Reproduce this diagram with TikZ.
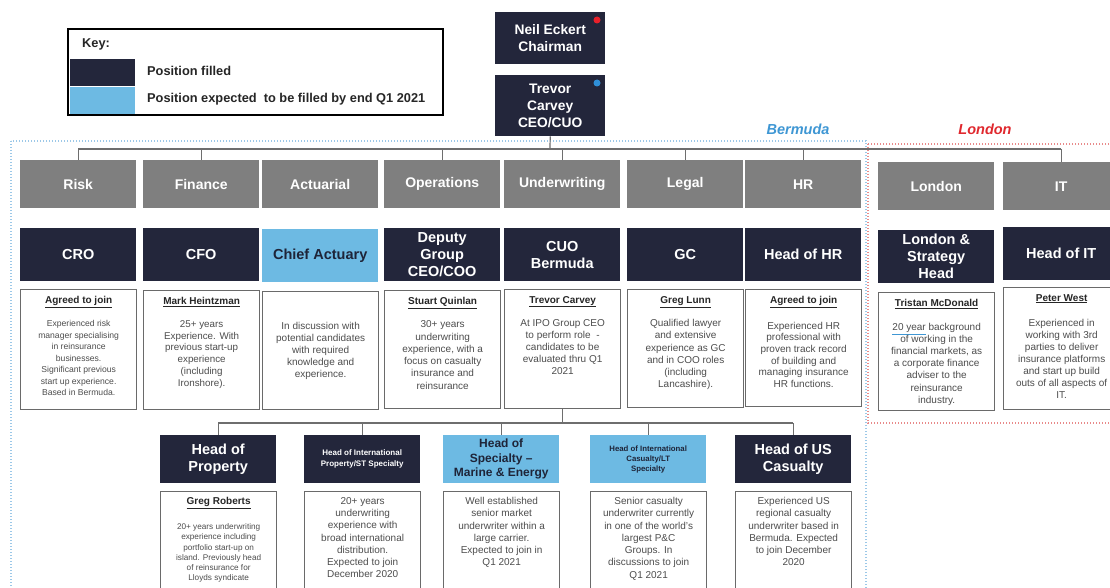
\documentclass[tikz,border=0pt]{standalone}
\usepackage{fontspec}
\setmainfont{Liberation Sans}
\definecolor{navy}{HTML}{23263B}
\definecolor{navytext}{HTML}{1E2438}
\definecolor{lightblue}{HTML}{6DBAE3}
\definecolor{deptgray}{HTML}{7F7F7F}
\definecolor{bordergray}{HTML}{6A6A6A}
\definecolor{descgray}{HTML}{4D4D4D}
\definecolor{hdcolor}{HTML}{262626}
\definecolor{connline}{HTML}{6E6E6E}
\definecolor{bermudablue}{HTML}{3F97D4}
\definecolor{bermudadots}{HTML}{9CC8E8}
\definecolor{londonred}{HTML}{E0282E}
\definecolor{londondots}{HTML}{E88A8A}
\definecolor{dotred}{HTML}{E8202A}
\definecolor{dotblue}{HTML}{2F8FD8}
% underlined name heading at the top of a description box
\newcommand\hdr[2][11pt]{{\fontsize{10}{11}\selectfont\bfseries\color{hdcolor}\underline{#2}}\\[#1]}
\begin{document}
\begin{tikzpicture}[x=1pt,y=-1pt,
  box/.style={rectangle, inner sep=1pt, anchor=north west, minimum width=116pt, align=center},
  dept/.style={box, fill=deptgray, text=white, minimum height=48pt, font=\fontsize{14}{16}\selectfont\bfseries},
  rolef/.style={box, fill=navy, text=white, minimum height=53pt, font=\fontsize{14.5}{17}\selectfont\bfseries},
  rolee/.style={rolef, fill=lightblue, text=navytext},
  descbox/.style={rectangle, anchor=north west, draw=bordergray, line width=1.3pt, minimum width=116pt, fill=white},
  desctext/.style={anchor=north, inner sep=0pt, align=center, text=descgray, font=\fontsize{10}{12.1}\selectfont},
  conn/.style={draw=connline, line width=1.2pt},
  top/.style={rectangle, inner sep=1pt, anchor=north west, minimum width=110pt, align=center, fill=navy, text=white, font=\fontsize{13.8}{17}\selectfont\bfseries},
  region/.style={line width=1.3pt, dash pattern=on 1.4pt off 1.6pt},
  keytext/.style={anchor=west, inner sep=0pt, font=\fontsize{12.8}{14}\selectfont\bfseries, text=hdcolor},
  regionlabel/.style={font=\fontsize{14.5}{16}\selectfont\bfseries\itshape}
]
\useasboundingbox (0,0) rectangle (1110,588);
\fill[white] (0,0) rectangle (1110,588);

% ---------- key ----------
\draw[line width=1.8pt, black] (68,29) rectangle (443,115);
\fill[navy] (70,59) rectangle (135,86);
\fill[lightblue] (70,87) rectangle (135,114);
\node[keytext] (keyhead) at (82,44) {Key:};
\node[keytext] (keyfilled) at (147,71) {Position filled};
\node[keytext] (keyexpected) at (147,99) {Position expected\ \ to be filled by end Q1 2021};

% ---------- regions ----------
\draw[region, draw=bermudadots] (11,141) rectangle (866,600);
\draw[region, draw=londondots] (868,144) rectangle (1116,423);
\node[regionlabel, text=bermudablue] (lblBermuda) at (798,129) {Bermuda};
\node[regionlabel, text=londonred] (lblLondon) at (985,129) {London};

% ---------- board ----------
\node[top, minimum height=52pt] (chair) at (495,12) {Neil Eckert\\Chairman};
\node[top, minimum height=61pt] (ceo) at (495,75) {Trevor\\Carvey\\CEO/CUO};
\fill[dotred] (597,20) circle (3.5);
\fill[dotblue] (597,83) circle (3.5);

% ---------- departments ----------
\node[dept] (dRisk) at (20,160) {Risk};
\node[dept] (dFin) at (143,160) {Finance};
\node[dept] (dAct) at (262,160) {Actuarial};
\node[dept] (dOps) at (384,160) {Operations};
\node[dept] (dUw) at (504,160) {Underwriting};
\node[dept] (dLegal) at (627,160) {Legal};
\node[dept] (dHR) at (745,160) {HR};
\node[dept] (dLon) at (878,162) {London};
\node[dept] (dIT) at (1003,162) {IT};

% ---------- roles ----------
\node[rolef] (rRisk) at (20,228) {CRO};
\node[rolef] (rFin) at (143,228) {CFO};
\node[rolee] (rAct) at (262,229) {Chief Actuary};
\node[rolef] (rOps) at (384,228) {Deputy\\Group\\CEO/COO};
\node[rolef] (rUw) at (504,228) {CUO\\Bermuda};
\node[rolef] (rLegal) at (627,228) {GC};
\node[rolef] (rHR) at (745,228) {Head of HR};
\node[rolef] (rLon) at (878,230) {London \&\\Strategy\\Head};
\node[rolef] (rIT) at (1003,227) {Head of IT};

% ---------- descriptions ----------
\node[descbox, minimum height=120pt] (xRisk) at (20,289) {};
\node[descbox, minimum height=119pt] (xFin) at (143,290) {};
\node[descbox, minimum height=118pt] (xAct) at (262,291) {};
\node[descbox, minimum height=118pt] (xOps) at (384,290) {};
\node[descbox, minimum height=119pt] (xUw) at (504,289) {};
\node[descbox, minimum height=118pt] (xLegal) at (627,289) {};
\node[descbox, minimum height=117pt] (xHR) at (745,289) {};
\node[descbox, minimum height=118pt] (xLon) at (878,292) {};
\node[descbox, minimum height=122pt] (xIT) at (1003,287) {};

\node[desctext, font=\fontsize{8.6}{11.5}\selectfont] (tRisk) at ([yshift=-7pt]xRisk.north) {\hdr[12pt]{Agreed to join}Experienced risk\\manager specialising\\in reinsurance\\businesses.\\Significant previous\\start up experience.\\Based in Bermuda.};
\node[desctext, font=\fontsize{9.8}{11.8}\selectfont] (tFin) at ([yshift=-7pt]xFin.north) {\hdr{Mark Heintzman}25+ years\\Experience. With\\previous start-up\\experience\\(including\\Ironshore).};
\node[desctext, anchor=center] (tAct) at (xAct.center) {In discussion with\\potential candidates\\with required\\knowledge and\\experience.};
\node[desctext, font=\fontsize{10}{12.3}\selectfont] (tOps) at ([yshift=-7pt]xOps.north) {\hdr{Stuart Quinlan}30+ years\\underwriting\\experience, with a\\focus on casualty\\insurance and\\reinsurance};
\node[desctext] (tUw) at ([yshift=-7pt]xUw.north) {\hdr{Trevor Carvey}At IPO Group CEO\\to perform role\ \ -\\candidates to be\\evaluated thru Q1\\2021};
\node[desctext, font=\fontsize{10}{12.3}\selectfont] (tLegal) at ([yshift=-7pt]xLegal.north) {\hdr{Greg Lunn}Qualified lawyer\\and extensive\\experience as GC\\and in COO roles\\(including\\Lancashire).};
\node[desctext, font=\fontsize{10}{11.7}\selectfont] (tHR) at ([yshift=-7pt]xHR.north) {\hdr[14pt]{Agreed to join}Experienced HR\\professional with\\proven track record\\of building and\\managing insurance\\HR functions.};
\node[desctext] (tLon) at ([yshift=-7pt]xLon.north) {\hdr[12pt]{Tristan McDonald}{\color{bermudablue}\underline{\textcolor{descgray}{20 year}}} background\\of working in the\\financial markets, as\\a corporate finance\\adviser to the\\reinsurance\\industry.};
\node[desctext, font=\fontsize{10}{11.9}\selectfont] (tIT) at ([yshift=-7pt]xIT.north) {\hdr[14pt]{Peter West}Experienced in\\working with 3rd\\parties to deliver\\insurance platforms\\and start up build\\outs of all aspects of\\IT.};

% ---------- underwriting teams ----------
\node[rolef, minimum height=48pt] (uProp) at (160,435) {Head of\\Property};
\node[rolef, minimum height=48pt, font=\fontsize{8}{11}\selectfont\bfseries] (uIntProp) at (304,435) {Head of International\\Property/ST Specialty};
\node[rolee, minimum height=48pt, font=\fontsize{12}{14.5}\selectfont\bfseries] (uSpec) at (443,435) {Head of\\Specialty --\\Marine \& Energy};
\node[rolee, minimum height=48pt, font=\fontsize{7.8}{10}\selectfont\bfseries] (uIntCas) at (590,435) {Head of International\\Casualty/LT\\Specialty};
\node[rolef, minimum height=48pt] (uUS) at (735,435) {Head of US\\Casualty};

\node[descbox, minimum height=100pt] (yProp) at (160,491) {};
\node[descbox, minimum height=100pt] (yIntProp) at (304,491) {};
\node[descbox, minimum height=100pt] (ySpec) at (443,491) {};
\node[descbox, minimum height=100pt] (yIntCas) at (590,491) {};
\node[descbox, minimum height=100pt] (yUS) at (735,491) {};

\node[desctext, font=\fontsize{8.2}{10.2}\selectfont] (sProp) at ([yshift=-6pt]yProp.north) {\hdr[15pt]{Greg Roberts}20+ years underwriting\\experience including\\portfolio start-up on\\island. Previously head\\of reinsurance for\\Lloyds syndicate};
\node[desctext, font=\fontsize{10}{12.3}\selectfont] (sIntProp) at ([yshift=-6pt]yIntProp.north) {20+ years\\underwriting\\experience with\\broad international\\distribution.\\Expected to join\\December 2020};
\node[desctext, font=\fontsize{10}{12.3}\selectfont] (sSpec) at ([yshift=-6pt]ySpec.north) {Well established\\senior market\\underwriter within a\\large carrier.\\Expected to join in\\Q1 2021};
\node[desctext, font=\fontsize{10}{12.3}\selectfont] (sIntCas) at ([yshift=-6pt]yIntCas.north) {Senior casualty\\underwriter currently\\in one of the world's\\largest P\&C\\Groups. In\\discussions to join\\Q1 2021};
\node[desctext, font=\fontsize{10}{12.3}\selectfont] (sUS) at ([yshift=-6pt]yUS.north) {Experienced US\\regional casualty\\underwriter based in\\Bermuda. Expected\\to join December\\2020};

% ---------- connectors ----------
\coordinate (bus) at (550,149);
\draw[conn] (ceo.south) -- (bus);
\draw[conn] (dRisk.north |- bus) -- (dIT.north |- bus);
\foreach \d in {dRisk,dFin,dOps,dUw,dLegal,dHR,dIT}
  \draw[conn] (\d.north |- bus) -- (\d.north);

\coordinate (bus2) at (564,423);
\draw[conn] (xUw.south) -- (xUw.south |- bus2);
\draw[conn] (uProp.north |- bus2) -- (uUS.north |- bus2);
\foreach \u in {uProp,uIntProp,uSpec,uIntCas,uUS}
  \draw[conn] (\u.north |- bus2) -- (\u.north);
\end{tikzpicture}
\end{document}
